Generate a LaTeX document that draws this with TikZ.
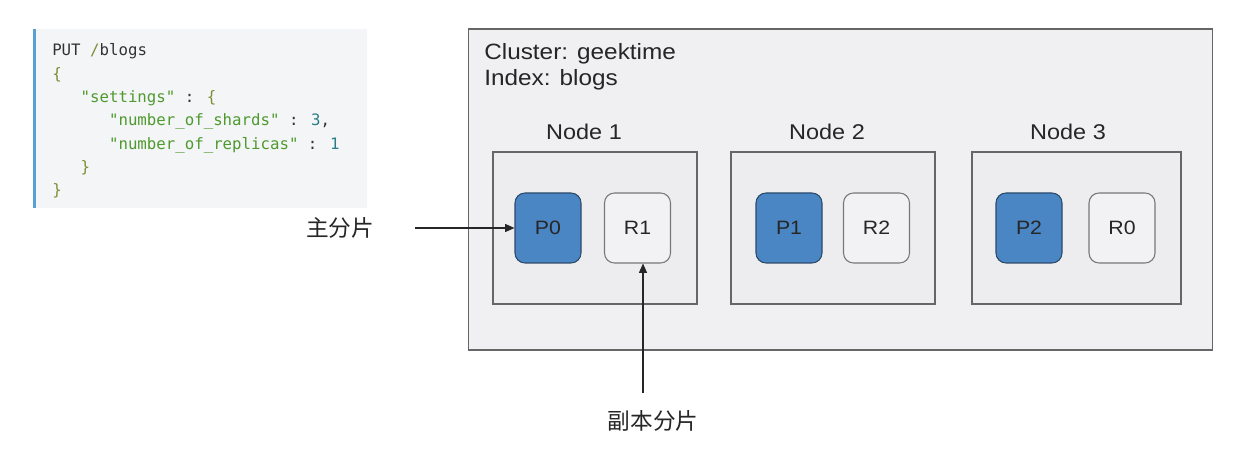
\documentclass[tikz,border=0pt]{standalone}
\usepackage{fontspec}
\setmainfont{Liberation Sans}[FakeStretch=1.1]
\newfontfamily\cjk{Noto Sans CJK SC}
\newfontfamily\codefont{DejaVu Sans Mono}
\usetikzlibrary{arrows.meta}
\definecolor{codebg}{HTML}{F4F5F7}
\definecolor{codebar}{HTML}{5A9FD4}
\definecolor{codedark}{HTML}{333333}
\definecolor{codeolive}{HTML}{7F8C35}
\definecolor{codegreen}{HTML}{4E9A2E}
\definecolor{codenum}{HTML}{2A7F86}
\definecolor{clusterfill}{HTML}{F0F0F2}
\definecolor{nodefill}{HTML}{EDEDEF}
\definecolor{boxline}{HTML}{666666}
\definecolor{pfill}{HTML}{4A86C3}
\definecolor{pline}{HTML}{2C4A6B}
\definecolor{rfill}{HTML}{F2F2F4}
\definecolor{rline}{HTML}{777777}
\tikzset{
  codeline/.style={anchor=base west, inner sep=0pt, font=\codefont\fontsize{11.8}{14}\selectfont, text=codedark},
  sanslabel/.style={inner sep=0pt, font=\fontsize{16}{19}\selectfont, text=black!85},
  headlabel/.style={sanslabel, anchor=base west, font=\fontsize{16.6}{19}\selectfont},
  nodebox/.style={draw=boxline, fill=nodefill, line width=0.9pt, minimum height=114pt, inner sep=0pt},
  shard/.style={rounded corners=7.5pt, line width=0.8pt, minimum width=49.5pt, minimum height=52.5pt, inner sep=0pt, font=\fontsize{14.5}{17}\selectfont, text=black!85},
  pshard/.style={shard, draw=pline, fill=pfill},
  rshard/.style={shard, draw=rline, fill=rfill},
  cjklabel/.style={inner sep=0pt, font=\cjk\fontsize{17}{20}\selectfont, text=black!85},
  arr/.style={draw=black!85, line width=0.8pt, -{Triangle[length=7pt,width=6pt]}}
}
\begin{document}
\begin{tikzpicture}[x=0.75pt,y=-0.75pt]
\useasboundingbox[fill=white] (0,0) rectangle (1240,449);
% code block
\fill[codebg] (33,29) rectangle (367,208);
\fill[codebar] (33,29) rectangle (36,208);
\node[codeline] (c1) at (52,56) {PUT \textcolor{codeolive}{/}blogs};
\node[codeline, text=codeolive] (c2) at (52,79.3) {\{};
\node[codeline] (c3) at (80.4,102.6) {\textcolor{codegreen}{"settings"} : \textcolor{codeolive}{\{}};
\node[codeline] (c4) at (108.8,126) {\textcolor{codegreen}{"number\_of\_shards"} : \textcolor{codenum}{3},};
\node[codeline] (c5) at (108.8,149.3) {\textcolor{codegreen}{"number\_of\_replicas"} : \textcolor{codenum}{1}};
\node[codeline, text=codeolive] (c6) at (80.4,172.6) {\}};
\node[codeline, text=codeolive] (c7) at (52,195.9) {\}};
% cluster
\node[draw=boxline, fill=clusterfill, line width=1pt, minimum width=558pt, minimum height=240.75pt, inner sep=0pt] (cluster) at (840.5,189.5) {};
\node[headlabel] (cname) at (484,60) {Cluster: geektime};
\node[headlabel] (iname) at (484,86) {Index: blogs};
% nodes
\node[nodebox, minimum width=153pt] (n1) at (595,228) {};
\node[nodebox, minimum width=153pt] (n2) at (833,228) {};
\node[nodebox, minimum width=156.75pt] (n3) at (1076.5,228) {};
\node[sanslabel, anchor=base] (l1) at (584,140) {Node 1};
\node[sanslabel, anchor=base] (l2) at (827,140) {Node 2};
\node[sanslabel, anchor=base] (l3) at (1068,140) {Node 3};
% shards
\node[pshard] (P0) at (548,228) {P0};
\node[rshard] (R1) at (637.5,228) {R1};
\node[pshard] (P1) at (789,228) {P1};
\node[rshard] (R2) at (876.5,228) {R2};
\node[pshard] (P2) at (1029,228) {P2};
\node[rshard] (R0) at (1122,228) {R0};
% labels and arrows
\node[cjklabel] (plab) at (340,228) {主分片};
\node[cjklabel] (rlab) at (653,421) {副本分片};
\coordinate (pstart) at (415,228);
\coordinate (rstart) at (643,393);
\draw[arr] (pstart) -- (P0.west);
\draw[arr] (rstart) -- (rstart |- R1.south);
\end{tikzpicture}
\end{document}
